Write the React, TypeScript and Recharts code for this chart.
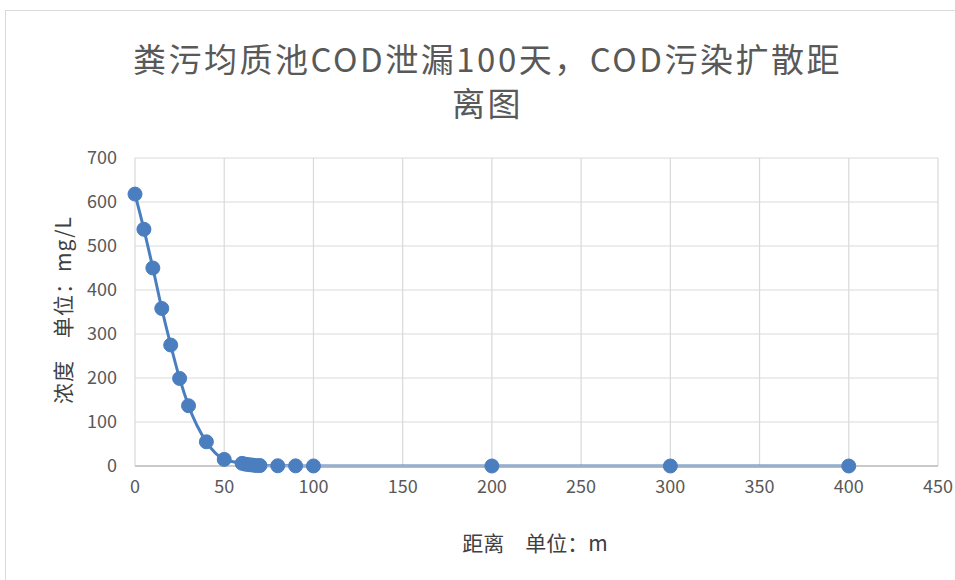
import { CartesianGrid, Line, LineChart, XAxis, YAxis } from "recharts";

const distances = [0, 5, 10, 15, 20, 25, 30, 40, 50, 60, 62, 64, 66, 68, 70, 80, 90, 100, 200, 300, 400];
const concentrations = [618, 538, 450, 358, 275, 199, 137, 55, 15, 6, 4, 3, 2, 1, 1, 0.5, 0.3, 0.1, 0, 0, 0];
const xTicks = [0, 50, 100, 150, 200, 250, 300, 350, 400, 450];
const yTicks = [0, 100, 200, 300, 400, 500, 600, 700];

const titleLines = ["粪污均质池COD泄漏100天，COD污染扩散距", "离图"];
const xLabel = "距离　单位：m";
const yLabel = "浓度　单位：mg/L";

const data = distances.map((d, i) => ({ d, c: concentrations[i] }));

const BLUE = "#4a7ebf";
const TEXT = "#595959";
const FONT = "'Noto Sans CJK SC', 'Open Sans', sans-serif";

export default function App() {
    return (
        <div style={{ position: "absolute", left: 0, top: 0, width: 955, height: 580, background: "#fff", fontFamily: FONT }}>
            <div
                style={{
                    position: "absolute",
                    left: 5,
                    top: 10,
                    width: 950,
                    height: 570,
                    borderLeft: "1px solid #d9d9d9",
                    borderTop: "1px solid #d9d9d9",
                }}
            />
            <div
                style={{
                    position: "absolute",
                    left: 0,
                    top: 36,
                    width: 975,
                    textAlign: "center",
                    fontSize: 33,
                    lineHeight: "44px",
                    letterSpacing: 2.5,
                    color: TEXT,
                }}
            >
                {titleLines.map((t) => (
                    <div key={t}>{t}</div>
                ))}
            </div>
            <LineChart
                width={955}
                height={580}
                data={data}
                margin={{ top: 158, right: 17, bottom: 74, left: 75 }}
                style={{ position: "absolute", left: 0, top: 0 }}
            >
                <CartesianGrid stroke="#d9d9d9" strokeWidth={1.2} />
                <XAxis
                    dataKey="d"
                    type="number"
                    domain={[0, 450]}
                    ticks={xTicks}
                    height={40}
                    tickLine={false}
                    axisLine={{ stroke: "#bfbfbf", strokeWidth: 1.5 }}
                    tick={{ fill: TEXT, fontSize: 18, fontFamily: FONT }}
                    tickMargin={8}
                />
                <YAxis
                    type="number"
                    domain={[0, 700]}
                    ticks={yTicks}
                    width={60}
                    tickLine={false}
                    axisLine={false}
                    tick={{ fill: TEXT, fontSize: 18, fontFamily: FONT }}
                    tickMargin={12}
                />
                <Line
                    dataKey="c"
                    type="monotone"
                    stroke={BLUE}
                    strokeWidth={3}
                    dot={{ r: 7, fill: BLUE, stroke: BLUE, strokeWidth: 1 }}
                    activeDot={false}
                    isAnimationActive={false}
                />
            </LineChart>
            <div
                style={{
                    position: "absolute",
                    left: 535 - 150,
                    top: 527,
                    width: 300,
                    textAlign: "center",
                    fontSize: 21,
                    color: "#404040",
                }}
            >
                {xLabel}
            </div>
            <div
                style={{
                    position: "absolute",
                    left: 62 - 150,
                    top: 310 - 15,
                    width: 300,
                    height: 30,
                    lineHeight: "30px",
                    textAlign: "center",
                    fontSize: 21,
                    letterSpacing: 1,
                    color: "#404040",
                    transform: "rotate(-90deg)",
                }}
            >
                {yLabel}
            </div>
        </div>
    );
}
